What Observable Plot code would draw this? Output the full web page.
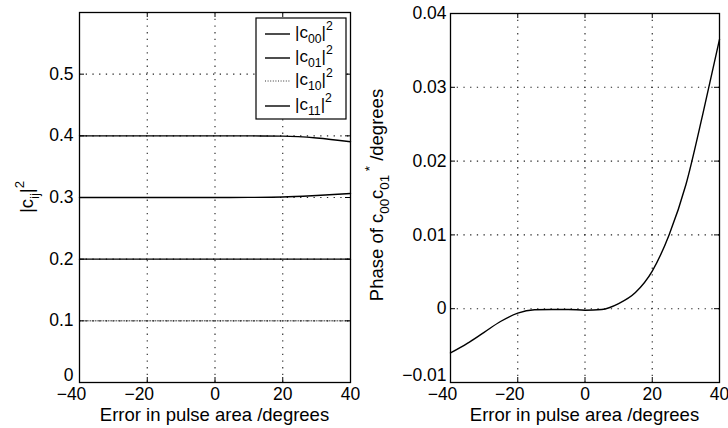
<!DOCTYPE html>
<html><head><meta charset="utf-8">
<script src="https://cdn.jsdelivr.net/npm/d3@7"></script>
<script src="https://cdn.jsdelivr.net/npm/@observablehq/plot@0.6"></script>
<style>
body{margin:0;background:#fff;}
#wrap{position:relative;width:728px;height:428px;overflow:hidden;background:#fff;}
#wrap svg{position:absolute;top:0;background:none;}
</style></head><body><div id="wrap"></div>
<script>
// ---- data ----
const errDeg = [-40, -30, -20, -10, 0, 10, 20, 30, 40];
const c00 = [0.4, 0.4, 0.4, 0.4, 0.4, 0.3999, 0.3995, 0.3965, 0.3905];
const c01 = [0.3, 0.3, 0.3, 0.3, 0.3, 0.3002, 0.3008, 0.3032, 0.3065];
const c10 = [0.1, 0.1, 0.1, 0.1, 0.1, 0.1, 0.1, 0.1, 0.1];
const c11 = [0.2, 0.2, 0.2, 0.2, 0.2, 0.2, 0.2, 0.2, 0.2];
const phaseDeg = [-40, -35, -30, -25, -20, -15, -10, -5, 0, 5, 10, 15, 20, 25, 30, 35, 40];
const phase = [-0.0060, -0.0047, -0.0032, -0.0017, -0.0006, -0.00015, -0.0001, -0.0001, -0.0002, -0.0001, 0.0007, 0.0022, 0.0051, 0.0100, 0.0168, 0.0263, 0.0365];
const xTicks = [-40, -20, 0, 20, 40];
const yTicksL = [0, 0.1, 0.2, 0.3, 0.4, 0.5];
const yTicksR = [-0.01, 0, 0.01, 0.02, 0.03, 0.04];
const seriesNames = ["00", "01", "10", "11"];

const FONT = "'Liberation Sans', Arial, Helvetica, sans-serif";
const H = 428;
const fmt = d => d === 0 ? "0" : (d < 0 ? "\u2212" : "") + String(Math.abs(d));

function panel({width, ml, mr, mt, mb, xDomain, yDomain, yTicks, ypad, content}) {
  const tl = 5;
  const kx = (xDomain[1] - xDomain[0]) / (width - ml - mr) * tl;
  const ky = (yDomain[1] - yDomain[0]) / (H - mt - mb) * tl;
  const gx = xTicks.filter(d => d > xDomain[0] && d < xDomain[1]);
  const gy = yTicks.filter(d => d > yDomain[0] && d < yDomain[1]);
  const grid = {stroke: "#222", strokeWidth: 1.1, strokeDasharray: "1.3,5.4"};
  const tick = {stroke: "#000", strokeWidth: 1};
  const axY = {tickSize: 0, tickPadding: ypad, tickFormat: fmt, label: null, fontSize: 17.5};
  return Plot.plot({
    width, height: H, marginLeft: ml, marginRight: mr, marginTop: mt, marginBottom: mb,
    style: {fontFamily: FONT, fontSize: "17.5px", color: "#000", background: "transparent"},
    x: {domain: xDomain},
    y: {domain: yDomain},
    marks: [
      Plot.ruleX(gx, {x: d => d, ...grid}),
      Plot.ruleY(gy, {y: d => d, ...grid}),
      ...content,
      Plot.ruleX(xTicks, {x: d => d, y1: yDomain[0], y2: yDomain[0] + ky, ...tick}),
      Plot.ruleX(xTicks, {x: d => d, y1: yDomain[1] - ky, y2: yDomain[1], ...tick}),
      Plot.ruleY(yTicks, {y: d => d, x1: xDomain[0], x2: xDomain[0] + kx, ...tick}),
      Plot.ruleY(yTicks, {y: d => d, x1: xDomain[1] - kx, x2: xDomain[1], ...tick}),
      Plot.frame({stroke: "#000", strokeWidth: 1.3}),
      Plot.axisX(xTicks.filter(d => d < 0), {tickSize: 0, tickPadding: 5, dx: -8, tickFormat: fmt, label: null, fontSize: 17.5}),
      Plot.axisX(xTicks.filter(d => d >= 0), {tickSize: 0, tickPadding: 5, tickFormat: fmt, label: null, fontSize: 17.5}),
      Plot.axisY(yTicks.slice(0, 1), {...axY, dy: -7}),
      Plot.axisY(yTicks.slice(1), axY)
    ]
  });
}

function richText(sel, x, y, parts, {size = 18.5, rotate = 0, anchor = "middle"} = {}) {
  const t = sel.append("text")
    .attr("transform", `translate(${x},${y}) rotate(${rotate})`)
    .attr("text-anchor", anchor)
    .attr("font-family", FONT)
    .attr("font-size", size)
    .attr("fill", "#000");
  let cur = 0;
  for (const p of parts) {
    let shift = 0, fs = size;
    if (p.s === "sub") { shift = 0.32 * size; fs = 0.72 * size; }
    if (p.s === "sup") { shift = -0.48 * size; fs = 0.72 * size; }
    t.append("tspan").attr("dy", shift - cur).attr("font-size", fs).text(p.t);
    cur = shift;
  }
  return t;
}

const wrap = document.getElementById("wrap");

// ---- left panel ----
const rowsL = errDeg.map((x, i) => ({x, c00: c00[i], c01: c01[i], c10: c10[i], c11: c11[i]}));
const solid = {stroke: "#000", strokeWidth: 1.4, curve: "monotone-x"};
const left = panel({
  width: 360, ml: 79, mr: 10, mt: 12, mb: 46,
  xDomain: [-40, 40], yDomain: [0, 0.6], yTicks: yTicksL, ypad: 6,
  content: [
    Plot.line(rowsL, {x: "x", y: "c00", ...solid}),
    Plot.line(rowsL, {x: "x", y: "c01", ...solid}),
    Plot.line(rowsL, {x: "x", y: "c10", stroke: "#333", strokeWidth: 1, strokeDasharray: "1,1.6"}),
    Plot.line(rowsL, {x: "x", y: "c11", ...solid})
  ]
});
left.style.left = "0px";
wrap.appendChild(left);

// ---- right panel ----
const RX = 355;
const rowsR = phaseDeg.map((x, i) => ({x, y: phase[i]}));
const right = panel({
  width: 728 - RX, ml: 450 - RX, mr: 9, mt: 13, mb: 46,
  xDomain: [-40, 40], yDomain: [-0.01, 0.04], yTicks: yTicksR, ypad: 4,
  content: [
    Plot.line(rowsR, {x: "x", y: "y", ...solid})
  ]
});
right.style.left = RX + "px";
wrap.appendChild(right);

// ---- labels ----
const L = d3.select(left), R = d3.select(right);
richText(L, 214.5, 421, [{t: "Error in pulse area /degrees"}]);
richText(R, (450 + 719) / 2 - RX, 421, [{t: "Error in pulse area /degrees"}]);
richText(L, 33, 197, [{t: "|c"}, {t: "ij", s: "sub"}, {t: "|"}, {t: "2", s: "sup"}], {rotate: -90});
richText(R, 383 - RX, 195, [{t: "Phase of c"}, {t: "00", s: "sub"}, {t: "c"}, {t: "01", s: "sub"}, {t: " *", s: "sup"}, {t: " /degrees"}], {rotate: -90});

// ---- legend ----
const lg = L.append("g");
lg.append("rect").attr("x", 256).attr("y", 18).attr("width", 90).attr("height", 101)
  .attr("fill", "#fff").attr("stroke", "#000").attr("stroke-width", 1.2);
const rowY = [34, 58, 81, 106];
seriesNames.forEach((nm, i) => {
  const ln = lg.append("line").attr("x1", 265).attr("x2", 290).attr("y1", rowY[i]).attr("y2", rowY[i])
    .attr("stroke", i === 2 ? "#333" : "#000").attr("stroke-width", i === 2 ? 1 : 1.4);
  if (i === 2) ln.attr("stroke-dasharray", "1,1.6");
  richText(lg, 295, rowY[i] + 4, [{t: "|c"}, {t: nm, s: "sub"}, {t: "|"}, {t: "2", s: "sup"}], {size: 17, anchor: "start"});
});
</script>
</body></html>
